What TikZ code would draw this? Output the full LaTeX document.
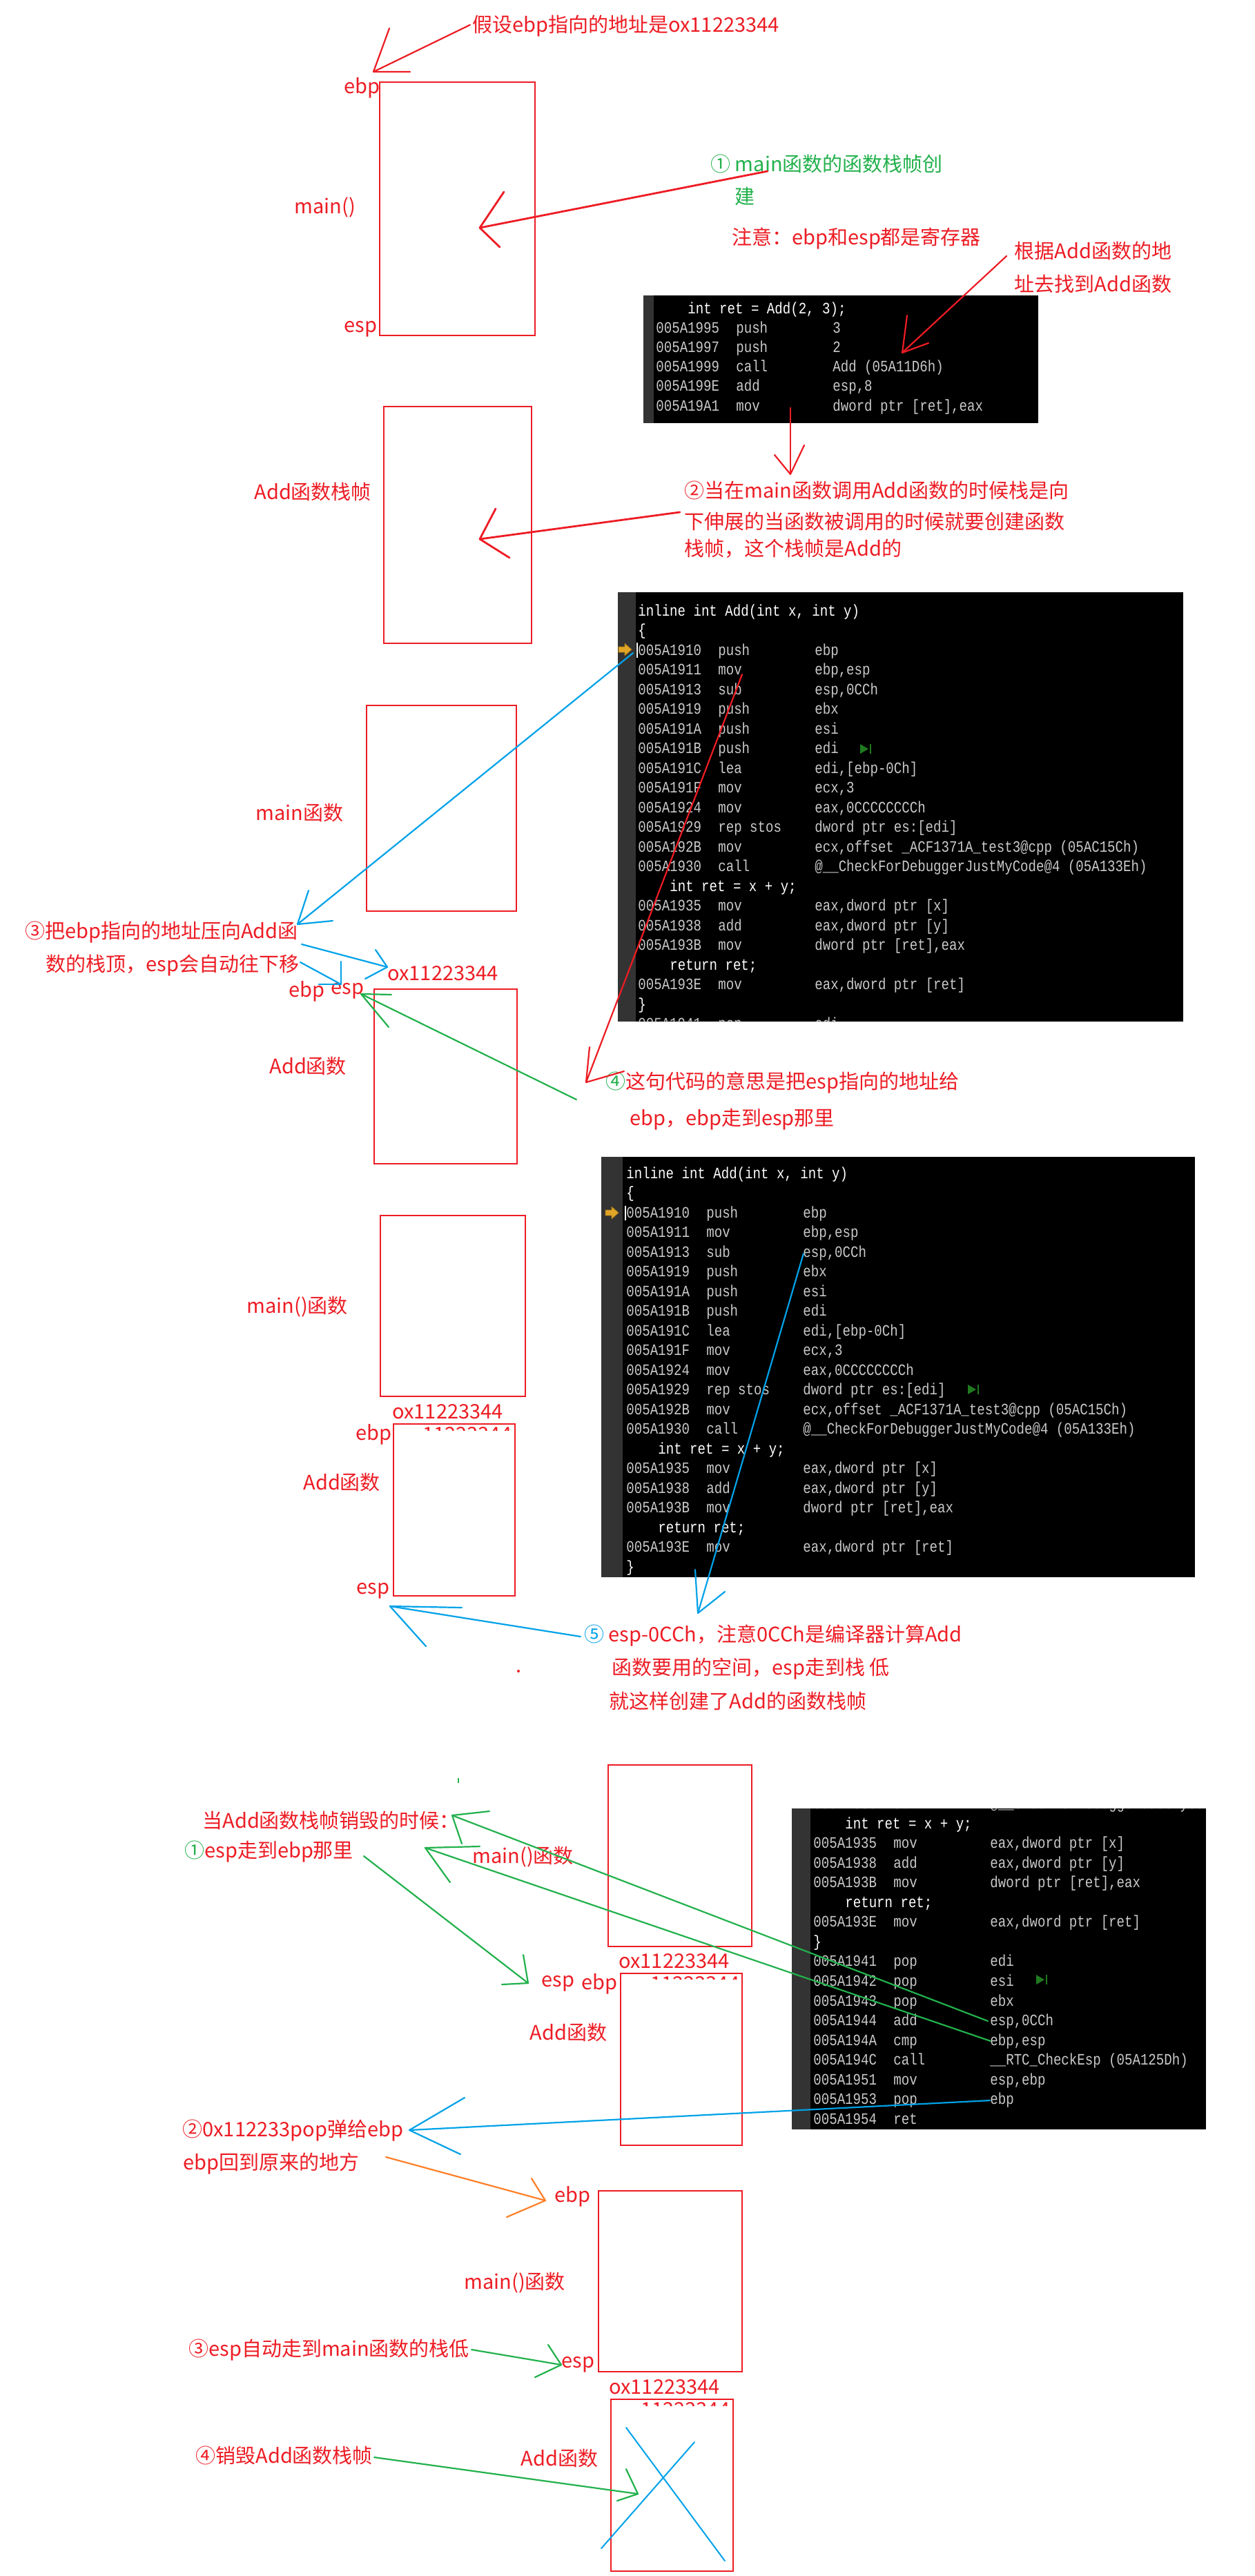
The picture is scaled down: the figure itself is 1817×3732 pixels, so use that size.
\documentclass[tikz,border=0pt]{standalone}
\usepackage{fontspec}
\setmainfont{Noto Sans CJK SC}
\newfontfamily\codefont[FakeStretch=0.83]{Liberation Mono}
\definecolor{rd}{HTML}{ED1C24}
\definecolor{gn}{HTML}{22B14C}
\definecolor{bl}{HTML}{00A2E8}
\definecolor{og}{HTML}{FF7F27}
\definecolor{cgrey}{HTML}{CACACA}
\definecolor{gutter}{HTML}{333333}
\definecolor{icon}{HTML}{1F7A1F}
\definecolor{marker}{HTML}{E0A526}
\newcommand\asmln[3]{\makebox[58pt][l]{#1}\makebox[70pt][l]{#2}#3}
\newcommand\srcln[1]{\hspace*{23pt}\textcolor{white}{#1}}
\newcommand\wline[1]{\textcolor{white}{#1}}
% hand drawn arrow: name, style, start, tip, barb1, barb2
\newcommand\harr[6]{%
  \coordinate (#1s) at (#3); \coordinate (#1t) at (#4);
  \coordinate (#1a) at (#5); \coordinate (#1b) at (#6);
  \draw[#2] (#1s) -- (#1t);
  \draw[#2] (#1a) -- (#1t) -- (#1b);}
\newcommand\playicon[2]{%
  \fill[icon] (#1,#2-7) -- (#1,#2+7) -- (#1+12,#2) -- cycle;
  \fill[icon] (#1+14,#2-7) rectangle (#1+16,#2+7);}
\newcommand\pcmarker[2]{%
  \fill[marker, draw=marker!70!black, line width=0.3pt] (#1,#2-4) -- (#1+9,#2-4) -- (#1+9,#2-9) -- (#1+19,#2) -- (#1+9,#2+9) -- (#1+9,#2+4) -- (#1,#2+4) -- cycle;}
\tikzset{
  lbl/.style={anchor=west, inner sep=0pt, text=rd, font=\fontsize{14.5pt}{17pt}\selectfont},
  glbl/.style={lbl, text=gn},
  frame/.style={draw=rd, line width=1.2pt},
  redln/.style={draw=rd, line width=1.1pt, line cap=round, line join=round},
  blueln/.style={draw=bl, line width=1.1pt, line cap=round, line join=round},
  greenln/.style={draw=gn, line width=1.1pt, line cap=round, line join=round},
  orangeln/.style={draw=og, line width=1.1pt, line cap=round, line join=round},
  code/.style={anchor=base west, inner sep=0pt, text=cgrey, font=\codefont\fontsize{11.5pt}{14pt}\selectfont},
}
\begin{document}
\begin{tikzpicture}[x=0.5pt,y=-0.5pt]
\useasboundingbox (0,0) rectangle (1817,3732);
\fill[white] (0,0) rectangle (1817,3732);

% ---------------- code box 1 ----------------
\fill[black] (932,428) rectangle (1504,613);
\fill[gutter] (932,428) rectangle (947,613);
\begin{scope}
\clip (932,428) rectangle (1504,613);
\foreach \t [count=\i from 0] in {
 {\srcln{int ret = Add(2, 3);}},
 {\asmln{005A1995}{push}{3}},
 {\asmln{005A1997}{push}{2}},
 {\asmln{005A1999}{call}{Add (05A11D6h)}},
 {\asmln{005A199E}{add}{esp,8}},
 {\asmln{005A19A1}{mov}{dword ptr [ret],eax}}}
 \node[code] (ca\i) at (950,454+28.2*\i) {\t};
\end{scope}

% ---------------- code box 2 ----------------
\fill[black] (895,858) rectangle (1714,1480);
\fill[gutter] (895,858) rectangle (921,1480);
\begin{scope}
\clip (895,858) rectangle (1714,1480);
\foreach \t [count=\i from 0] in {
 {\wline{inline int Add(int x, int y)}},
 {\wline{\{}},
 {\asmln{005A1910}{push}{ebp}},
 {\asmln{005A1911}{mov}{ebp,esp}},
 {\asmln{005A1913}{sub}{esp,0CCh}},
 {\asmln{005A1919}{push}{ebx}},
 {\asmln{005A191A}{push}{esi}},
 {\asmln{005A191B}{push}{edi}},
 {\asmln{005A191C}{lea}{edi,[ebp-0Ch]}},
 {\asmln{005A191F}{mov}{ecx,3}},
 {\asmln{005A1924}{mov}{eax,0CCCCCCCCh}},
 {\asmln{005A1929}{rep stos}{dword ptr es:[edi]}},
 {\asmln{005A192B}{mov}{ecx,offset \_ACF1371A\_test3@cpp (05AC15Ch)}},
 {\asmln{005A1930}{call}{@\_\_CheckForDebuggerJustMyCode@4 (05A133Eh)}},
 {\srcln{int ret = x + y;}},
 {\asmln{005A1935}{mov}{eax,dword ptr [x]}},
 {\asmln{005A1938}{add}{eax,dword ptr [y]}},
 {\asmln{005A193B}{mov}{dword ptr [ret],eax}},
 {\srcln{return ret;}},
 {\asmln{005A193E}{mov}{eax,dword ptr [ret]}},
 {\wline{\}}},
 {\asmln{005A1941}{pop}{edi}}}
 \node[code] (cb\i) at (924,892+28.5*\i) {\t};
\end{scope}
\pcmarker{896}{941}
\draw[white, line width=0.6pt] (923,931) -- (923,953);
\playicon{1246}{1085}

% ---------------- code box 3 ----------------
\fill[black] (871,1676) rectangle (1731,2285);
\fill[gutter] (871,1676) rectangle (902,2285);
\begin{scope}
\clip (871,1676) rectangle (1731,2285);
\foreach \t [count=\i from 0] in {
 {\wline{inline int Add(int x, int y)}},
 {\wline{\{}},
 {\asmln{005A1910}{push}{ebp}},
 {\asmln{005A1911}{mov}{ebp,esp}},
 {\asmln{005A1913}{sub}{esp,0CCh}},
 {\asmln{005A1919}{push}{ebx}},
 {\asmln{005A191A}{push}{esi}},
 {\asmln{005A191B}{push}{edi}},
 {\asmln{005A191C}{lea}{edi,[ebp-0Ch]}},
 {\asmln{005A191F}{mov}{ecx,3}},
 {\asmln{005A1924}{mov}{eax,0CCCCCCCCh}},
 {\asmln{005A1929}{rep stos}{dword ptr es:[edi]}},
 {\asmln{005A192B}{mov}{ecx,offset \_ACF1371A\_test3@cpp (05AC15Ch)}},
 {\asmln{005A1930}{call}{@\_\_CheckForDebuggerJustMyCode@4 (05A133Eh)}},
 {\srcln{int ret = x + y;}},
 {\asmln{005A1935}{mov}{eax,dword ptr [x]}},
 {\asmln{005A1938}{add}{eax,dword ptr [y]}},
 {\asmln{005A193B}{mov}{dword ptr [ret],eax}},
 {\srcln{return ret;}},
 {\asmln{005A193E}{mov}{eax,dword ptr [ret]}},
 {\wline{\}}}}
 \node[code] (cc\i) at (907,1707+28.5*\i) {\t};
\end{scope}
\pcmarker{877}{1757}
\draw[white, line width=0.6pt] (906,1747) -- (906,1768);
\playicon{1402}{2013}

% ---------------- code box 4 ----------------
\fill[black] (1147,2620) rectangle (1747,3085);
\fill[gutter] (1147,2620) rectangle (1174,3085);
\begin{scope}
\clip (1147,2620) rectangle (1747,3085);
\foreach \t [count=\i from 0] in {
 {\asmln{005A1930}{call}{@\_\_CheckForDebuggerJustMyCode@4 (05A133Eh)}},
 {\srcln{int ret = x + y;}},
 {\asmln{005A1935}{mov}{eax,dword ptr [x]}},
 {\asmln{005A1938}{add}{eax,dword ptr [y]}},
 {\asmln{005A193B}{mov}{dword ptr [ret],eax}},
 {\srcln{return ret;}},
 {\asmln{005A193E}{mov}{eax,dword ptr [ret]}},
 {\wline{\}}},
 {\asmln{005A1941}{pop}{edi}},
 {\asmln{005A1942}{pop}{esi}},
 {\asmln{005A1943}{pop}{ebx}},
 {\asmln{005A1944}{add}{esp,0CCh}},
 {\asmln{005A194A}{cmp}{ebp,esp}},
 {\asmln{005A194C}{call}{\_\_RTC\_CheckEsp (05A125Dh)}},
 {\asmln{005A1951}{mov}{esp,ebp}},
 {\asmln{005A1953}{pop}{ebp}},
 {\asmln{005A1954}{ret}{}}}
 \node[code] (cd\i) at (1178,2620.5+28.55*\i) {\t};
\end{scope}
\playicon{1501}{2868}

% ---------------- stack frames ----------------
\draw[frame] (550,119) rectangle (775,486);
\draw[frame] (556,589) rectangle (770,932);
\draw[frame] (531,1022) rectangle (748,1320);
\draw[frame] (542,1433) rectangle (749,1686);
\draw[frame] (551,1761) rectangle (761,2023);
\draw[frame] (570,2063) rectangle (746,2312);
\draw[frame] (881,2557) rectangle (1089,2820);
\draw[frame] (899,2859) rectangle (1075,3108);
\draw[frame] (867,3174) rectangle (1075,3436);
\draw[frame] (885,3476) rectangle (1062,3725);

% ghost remnants of the address under box tops
\begin{scope}
\clip (600,2065) rectangle (760,2072);
\node[lbl] (gh4) at (612,2078) {11223344};
\end{scope}
\begin{scope}
\clip (930,2862) rectangle (1070,2867);
\node[lbl] (gh5) at (942,2874) {11223344};
\end{scope}
\begin{scope}
\clip (915,3479) rectangle (1055,3485);
\node[lbl] (gh6) at (928,3491) {11223344};
\end{scope}

% ---------------- labels: section 1 ----------------
\node[lbl] (t1) at (684,38) {假设ebp指向的地址是ox11223344};
\node[lbl] (ebp1) at (498,127) {ebp};
\node[lbl] (main1) at (426,300) {main()};
\node[lbl] (esp1) at (498,477) {esp};
\node[glbl] (n1a) at (1029,237) {① main函数的函数栈帧创};
\node[glbl] (n1b) at (1064,284) {建};
\node[lbl] (note) at (1060,346) {注意：ebp和esp都是寄存器};
\node[lbl] (gj1) at (1469,363) {根据Add函数的地};
\node[lbl] (gj2) at (1469,412) {址去找到Add函数};

% ---------------- section 2 ----------------
\node[lbl] (n2a) at (991,710) {②当在main函数调用Add函数的时候栈是向};
\node[lbl] (n2b) at (991,755) {下伸展的当函数被调用的时候就要创建函数};
\node[lbl] (n2c) at (991,795) {栈帧，这个栈帧是Add的};
\node[lbl] (add2) at (368,712) {Add函数栈帧};

% ---------------- section 3 ----------------
\node[lbl] (main3) at (370,1177) {main函数};
\node[lbl] (n3a) at (36,1351) {③把ebp指向的地址压向Add函};
\node[lbl] (n3b) at (66,1399) {数的栈顶，esp会自动往下移};
\node[lbl] (ox3) at (561,1410) {ox11223344};
\node[lbl] (ebp3) at (418,1436) {ebp};
\node[lbl] (esp3) at (479,1436) {esp};
\node[lbl] (add3) at (390,1544) {Add函数};
\node[lbl] (n4a) at (877,1568) {\textcolor{gn}{④}这句代码的意思是把esp指向的地址给};
\node[lbl] (n4b) at (912,1622) {ebp，ebp走到esp那里};

% ---------------- section 4 ----------------
\node[lbl] (main4) at (357,1893) {main()函数};
\node[lbl] (ox4) at (568,2045) {ox11223344};
\node[lbl] (ebp4) at (515,2078) {ebp};
\node[lbl] (add4) at (439,2147) {Add函数};
\node[lbl] (esp4) at (516,2305) {esp};
\node[lbl] (n5a) at (846,2369) {\textcolor{bl}{⑤} esp-0CCh，注意0CCh是编译器计算Add};
\node[lbl] (n5b) at (886,2418) {函数要用的空间，esp走到栈 低};
\node[lbl] (n5c) at (882,2464) {就这样创建了Add的函数栈帧};
\fill[rd] (751,2421) circle (2);

% ---------------- section 5 ----------------
\node[lbl] (n6a) at (293,2637) {当Add函数栈帧销毁的时候：};
\node[lbl] (n6b) at (267,2683) {\textcolor{gn}{①}esp走到ebp那里};
\node[lbl] (main5) at (684,2690) {main()函数};
\node[lbl] (ox5) at (896,2841) {ox11223344};
\node[lbl] (esp5) at (784,2874) {esp};
\node[lbl] (ebp5) at (842,2874) {ebp};
\node[lbl] (add5) at (767,2944) {Add函数};
\fill[gn] (663,2576) rectangle (665,2583);

% ---------------- section 6 ----------------
\node[lbl] (n7a) at (264,3087) {②0x112233pop弹给ebp};
\node[lbl] (n7b) at (265,3135) {ebp回到原来的地方};
\node[lbl] (ebp6) at (803,3182) {ebp};
\node[lbl] (main6) at (672,3307) {main()函数};
\node[lbl] (n7c) at (273,3405) {③esp自动走到main函数的栈低};
\node[lbl] (esp6) at (813,3426) {esp};
\node[lbl] (ox6) at (882,3458) {ox11223344};
\node[lbl] (add6) at (754,3561) {Add函数};
\node[lbl] (n7d) at (283,3557) {④销毁Add函数栈帧};
\draw[blueln, line width=1pt] (907,3517) -- (1050,3710);
\draw[blueln, line width=1pt] (1006,3538) -- (871,3692);

% ---------------- arrows ----------------
\harr{a1}{redln}{681,36}{541,104}{564,41}{594,104}
\harr{a2}{redln, line width=1.4pt}{1112,248}{695,330}{730,278}{724,358}
\harr{a3}{redln}{1458,371}{1307,511}{1314,457}{1345,497}
\harr{a4}{redln}{1145,591}{1145,687}{1165,645}{1122,659}
\harr{a5}{redln, line width=1.4pt}{985,742}{695,781}{718,737}{738,808}
\harr{b1}{blueln}{917,946}{431,1339}{447,1290}{482,1334}
\harr{b2}{blueln}{437,1368}{561,1401}{544,1376}{529,1418}
\harr{b3}{blueln}{435,1394}{494,1426}{494,1393}{462,1426}
\harr{g1}{greenln}{835,1593}{523,1440}{567,1441}{563,1488}
\harr{r1}{redln}{1075,977}{849,1568}{854,1517}{904,1552}
\harr{b4}{blueln}{841,2371}{565,2327}{669,2329}{617,2385}
\harr{b5}{blueln}{1164,1816}{1011,2337}{1007,2274}{1050,2306}
\harr{g2}{greenln}{1431,2928}{655,2630}{709,2624}{669,2671}
\harr{g3}{greenln}{1435,2957}{616,2677}{695,2675}{652,2727}
\harr{g4}{greenln}{527,2689}{765,2873}{758,2832}{727,2875}
\harr{b6}{blueln}{1434,3043}{593,3086}{673,3039}{667,3121}
\harr{o1}{orangeln}{559,3125}{790,3188}{770,3156}{734,3212}
\harr{g5}{greenln}{683,3404}{813,3426}{794,3397}{775,3444}
\harr{g6}{greenln}{542,3560}{924,3613}{907,3577}{894,3623}
\end{tikzpicture}
\end{document}
